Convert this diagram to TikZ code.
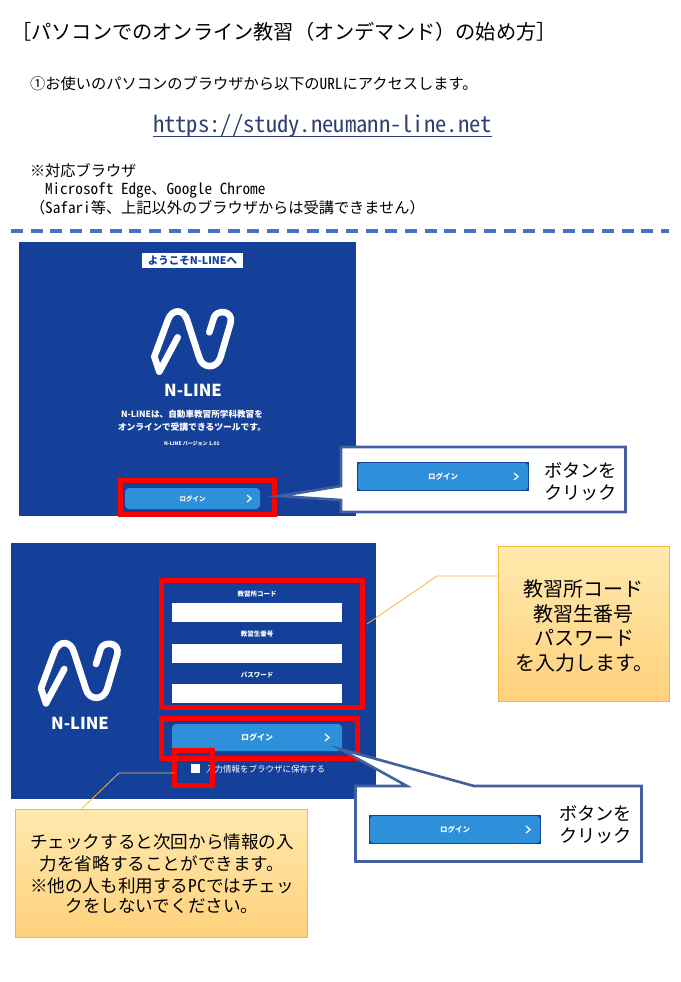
\documentclass[tikz,border=0pt]{standalone}
\usepackage{fontspec}
\setmainfont[RawFeature=+hwid]{Noto Sans CJK JP}
\newfontfamily\propfont{Noto Sans CJK JP}
\newcommand{\fs}[1]{\fontsize{#1}{#1}\selectfont}
\definecolor{navy}{HTML}{15409A}
\definecolor{btn}{HTML}{2E90DA}
\definecolor{redbox}{HTML}{FF0000}
\definecolor{calloutline}{HTML}{43609E}
\definecolor{gold}{HTML}{F4B63C}
\definecolor{urlblue}{HTML}{2F3F73}
\definecolor{dashblue}{HTML}{4472C4}
\definecolor{notetop}{HTML}{FFE9AE}
\definecolor{notebot}{HTML}{FFD17C}
\tikzset{
  every node/.style={outer sep=0pt},
  txt/.style={inner sep=0pt,text=black,anchor=center,align=center},
  txtl/.style={inner sep=0pt,text=black,anchor=west},
  panel/.style={fill=navy,draw=none,inner sep=0pt,anchor=north west},
  redframe/.style={draw=redbox,line width=5pt,inner sep=0pt,anchor=center,fill=none},
  field/.style={fill=white,draw=none,inner sep=0pt,anchor=north west},
  loginbtn/.style={fill=btn,draw=none,rounded corners=4pt,inner sep=0pt,anchor=north west},
  notebox/.style={top color=notetop,bottom color=notebot,draw=gold,line width=.8pt,inner sep=0pt,anchor=north west},
  leader/.style={draw=gold,line width=.8pt},
  callout/.style={draw=calloutline,line width=2.6pt,fill=white,line join=miter},
  chev/.style={draw=white,line width=1.2pt},
  whitetext/.style={inner sep=0pt,text=white,font=\bfseries},
}
\newcommand{\nlogo}[2]{%
  \begin{scope}[shift={(#1,#2)},x=0.33333pt,y=-0.33333pt]
    \draw[white,line width=6.6pt,line cap=round,line join=round]
      (628,307) -- (642,262) .. controls (650,238) and (700,240) .. (692,278)
      -- (662,380) .. controls (652,418) and (606,418) .. (597,380)
      -- (562,272) .. controls (552,235) and (515,235) .. (503,272)
      -- (463,380) -- (478,425) -- (533,322);
  \end{scope}}
\newcommand{\chevron}[2]{%
  \draw[chev] (#1-2,#2-3.5) -- (#1+2,#2) -- (#1-2,#2+3.5);}
\newcommand{\sbtn}[3]{% name, x, y
  \node[fill=navy,inner sep=0pt,minimum width=172pt,minimum height=29pt,anchor=north west] (#1bg) at (#2,#3) {};
  \node[fill=btn,rounded corners=3pt,inner sep=0pt,minimum width=170pt,minimum height=27pt,anchor=center] (#1) at (#1bg.center) {};
  \node[whitetext] (#1t) at (#1.center) {\fs{7.5}ログイン};
  \chevron{#2+159}{#3+14.5}}
\begin{document}
\begin{tikzpicture}[x=1pt,y=-1pt]
\useasboundingbox[fill=white] (0,0) rectangle (680,982);

% heading
\node[txtl] (title) at (11.3,32) {\propfont\fs{20.2}［パソコンでのオンライン教習（オンデマンド）の始め方］};
\node[txtl] (stepone) at (30,84) {\fs{15.25}①お使いのパソコンのブラウザから以下のURLにアクセスします。};
\node[txt,text=urlblue] (url) at (322.5,126) {\fs{22.6}https://study.neumann-line.net};
\coordinate (urlL) at (153,136);
\coordinate (urlR) at (492,136);
\draw[urlblue,line width=1pt] (urlL) -- (urlR);
\node[txtl] (br1) at (30,171) {\fs{15.2}※対応ブラウザ};
\node[txtl] (br2) at (45,190) {\fs{15.2}Microsoft Edge、Google Chrome};
\node[txtl] (br3) at (30,208) {\fs{15.2}{\propfont （}Safari等、上記以外のブラウザからは受講できません{\propfont ）}};

\coordinate (dashL) at (11,231);
\coordinate (dashR) at (669,231);
\draw[draw=dashblue,line width=3.5pt,dash pattern=on 12pt off 7.7pt] (dashL) -- (dashR);

% first screen
\node[panel,minimum width=337pt,minimum height=274pt] (scr1) at (19,242) {};
\node[fill=white,inner sep=0pt,minimum width=101pt,minimum height=15pt,anchor=north west] (welcomebox) at (142,253) {};
\node[inner sep=0pt,text=navy,font=\bfseries] (welcome) at (welcomebox.center) {\propfont\bfseries\fs{10.5}ようこそN-LINEへ};
\nlogo{0}{230}
\node[whitetext] (name1) at (193,390) {\propfont\bfseries\fs{16.5}N-LINE};
\node[whitetext] (desc1) at (192,414.5) {\propfont\bfseries\fs{8.6}N-LINEは、自動車教習所学科教習を};
\node[whitetext] (desc2) at (192,427.5) {\propfont\bfseries\fs{8.8}オンラインで受講できるツールです。};
\node[whitetext] (ver) at (192,444) {\propfont\fs{5}N-LINE バージョン 1.01};
\node[loginbtn,minimum width=135pt,minimum height=21pt] (btn1) at (125,488) {};
\node[whitetext] (btn1t) at (192.5,498.5) {\fs{6.5}ログイン};
\chevron{249}{498.5}
\node[redframe,minimum width=154pt,minimum height=34pt] (red0) at (197.5,497) {};

% callout 1
\draw[callout] (341,447) -- (625.5,447) -- (625.5,512) -- (341,512) -- (341,500) -- (280,496) -- (341,486) -- cycle;
\sbtn{cbtn1}{357}{462}
\node[txt] (cb1a) at (580.5,470) {\fs{18.2}ボタンを};
\node[txt] (cb1b) at (580.5,492.5) {\fs{18.2}クリック};

% second screen
\node[panel,minimum width=365pt,minimum height=256pt] (scr2) at (11,543) {};
\nlogo{-113.33}{561.67}
\node[whitetext] (name2) at (80,723) {\propfont\bfseries\fs{16.5}N-LINE};
\node[field,minimum width=170pt,minimum height=19pt] (f1) at (172,603) {};
\node[field,minimum width=170pt,minimum height=19pt] (f2) at (172,644) {};
\node[field,minimum width=170pt,minimum height=19pt] (f3) at (172,684) {};
\node[whitetext] (l1) at (257,594) {\fs{6.5}教習所コード};
\node[whitetext] (l2) at (257,634.5) {\fs{6.5}教習生番号};
\node[whitetext] (l3) at (257,675) {\fs{6.5}パスワード};
\node[loginbtn,minimum width=170pt,minimum height=27pt] (btn2) at (172,724) {};
\node[whitetext] (btn2t) at (257,737) {\fs{8}ログイン};
\chevron{327}{737.5}
\node[fill=white,inner sep=0pt,minimum width=9pt,minimum height=9pt,anchor=north west] (chk) at (191,764) {};
\node[inner sep=0pt,text=white,anchor=west] (chkl) at (206,769) {\fs{8.5}入力情報をブラウザに保存する};
\node[redframe,minimum width=201pt,minimum height=127pt] (red1) at (262,644) {};
\node[redframe,minimum width=196pt,minimum height=40pt] (red2) at (259.5,738.5) {};

% orange note 1
\node[notebox,minimum width=171pt,minimum height=155pt] (note1) at (498,546) {};
\node[txt] (n1a) at (583,589) {\fs{20}教習所コード};
\node[txt] (n1b) at (583,614) {\fs{20}教習生番号};
\node[txt] (n1c) at (584,638) {\fs{20}パスワード};
\node[txt] (n1d) at (584,663) {\fs{20}を入力します。};
\coordinate (lead1a) at (437,576);
\coordinate (lead1b) at (367,624);
\draw[leader] (note1.west |- lead1a) -- (lead1a) -- (lead1b);

% orange note 2
\node[notebox,minimum width=292pt,minimum height=128pt] (note2) at (15,809) {};
\node[txt] (n2a) at (162,842) {\fs{17.6}チェックすると次回から情報の入};
\node[txt] (n2b) at (162,864) {\fs{17.6}力を省略することができます。};
\node[txt] (n2c) at (162,886) {\fs{17.6}※他の人も利用するPCではチェッ};
\node[txt] (n2d) at (162,906) {\fs{17.6}クをしないでください。};
\node[redframe,minimum width=38pt,minimum height=35pt] (red3) at (193.5,768) {};
\coordinate (lead2a) at (119,773);
\coordinate (lead2b) at (82,808.5);
\draw[leader] (red3.west |- lead2a) -- (lead2a) -- (lead2b);

% callout 2
\draw[callout] (355.5,786) -- (407,786) -- (340,749) -- (474,786) -- (641.5,786) -- (641.5,861.5) -- (355.5,861.5) -- cycle;
\sbtn{cbtn2}{369}{815}
\node[txt] (cb2a) at (595.5,813) {\fs{18.2}ボタンを};
\node[txt] (cb2b) at (595.5,836) {\fs{18.2}クリック};
\end{tikzpicture}
\end{document}
